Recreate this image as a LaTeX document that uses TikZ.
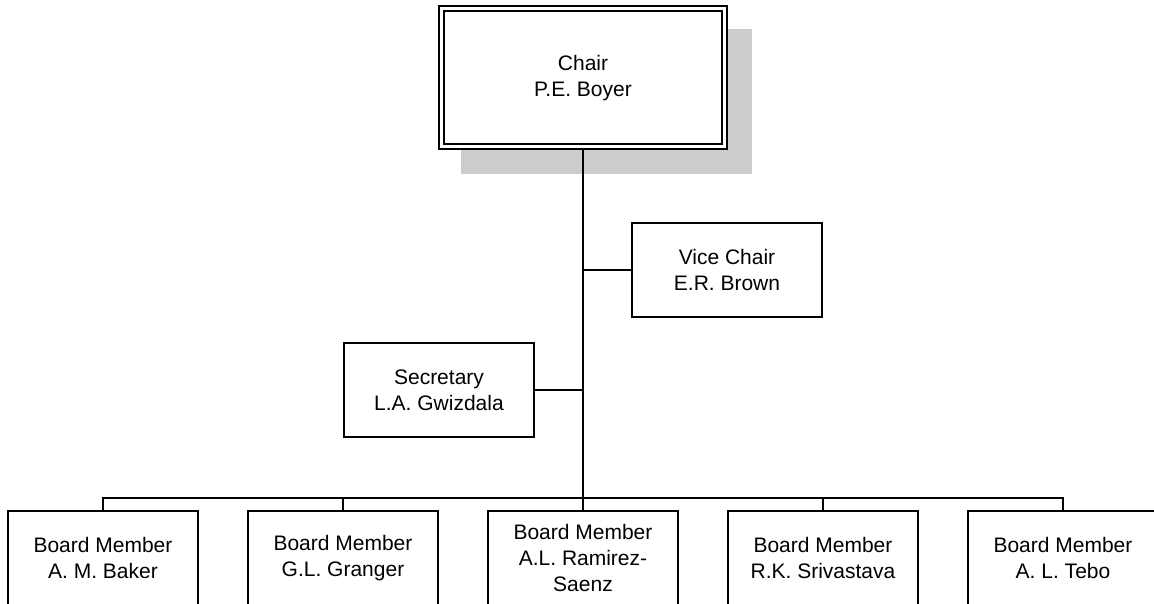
\documentclass[tikz,border=0pt]{standalone}
\usepackage{fontspec}
\setmainfont{Liberation Sans}
\begin{document}
\begin{tikzpicture}[x = 1pt, y = 1pt, line width = 2pt,
  box/.style = {draw, rectangle, align = center, inner sep = 0pt,
    minimum width = 190pt, minimum height = 94pt,
    font = \fontsize{21}{26}\selectfont}]

\useasboundingbox (0, 0) rectangle (1154, 604);

% shadow behind the chair
\fill[gray!40] (461, 430) rectangle (752, 575);

\node[box, fill = white, double, double distance = 3pt, minimum width = 283pt, minimum height = 138pt] (chair) at (583, 526) {Chair\\P.E. Boyer};
\node[box] (vice) at (727, 334) {Vice Chair\\E.R. Brown};
\node[box] (sec) at (439, 214) {Secretary\\L.A. Gwizdala};

\node[box] (baker) at (103, 46) {Board Member\\A. M. Baker};
\node[box] (granger) at (343, 46) {Board Member\\G.L. Granger};
\node[box] (ramirez) at (583, 46) {Board Member\\A.L. Ramirez-\\Saenz};
\node[box] (srivastava) at (823, 46) {Board Member\\R.K. Srivastava};
\node[box] (tebo) at (1063, 46) {Board Member\\A. L. Tebo};

\coordinate (bus) at (583, 106);

\draw (chair) -- (bus);
\draw (vice.west) -- (vice.west -| bus);
\draw (sec.east) -- (sec.east -| bus);

\draw (baker.north) |- (bus) -| (tebo.north);
\draw (granger.north) -- (granger.north |- bus);
\draw (ramirez.north) -- (bus);
\draw (srivastava.north) -- (srivastava.north |- bus);

\end{tikzpicture}
\end{document}
